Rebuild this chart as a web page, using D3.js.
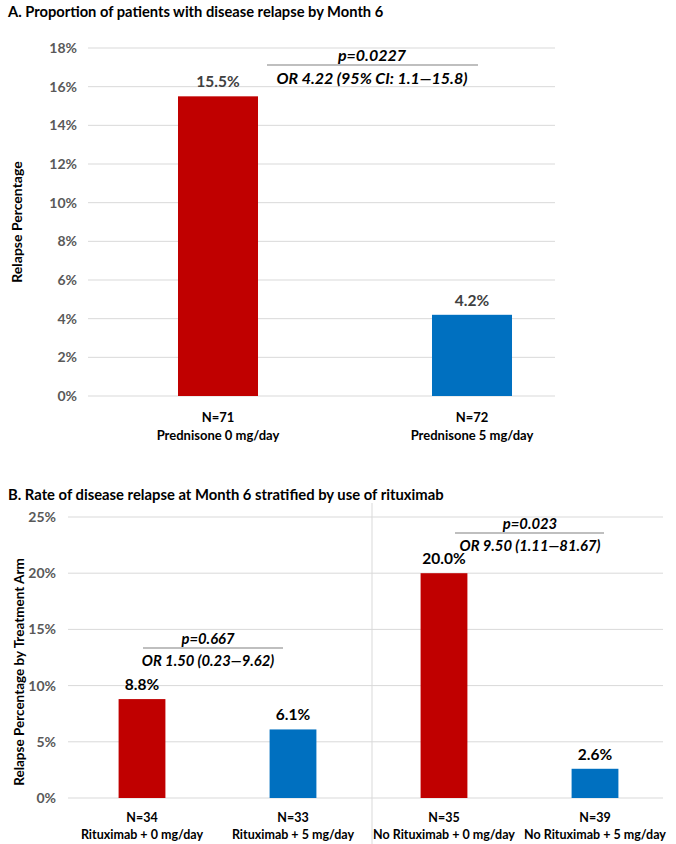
<!DOCTYPE html>
<html>
<head>
<meta charset="utf-8">
<script src="https://cdn.jsdelivr.net/npm/d3@7"></script>
<style>
  body { margin: 0; background: #fff; }
  svg text { font-family: Lato, "Open Sans", sans-serif; }
</style>
</head>
<body>
<svg id="chart" width="676" height="844"></svg>
<script>
// panel A data
var catsA = ["Prednisone 0 mg/day", "Prednisone 5 mg/day"];
var nA = ["N=71", "N=72"];
var valsA = [15.5, 4.2];
var ticksA = [0, 2, 4, 6, 8, 10, 12, 14, 16, 18];

// panel B data
var catsB = ["Rituximab + 0 mg/day", "Rituximab + 5 mg/day", "No Rituximab + 0 mg/day", "No Rituximab + 5 mg/day"];
var nB = ["N=34", "N=33", "N=35", "N=39"];
var valsB = [8.8, 6.1, 20.0, 2.6];
var ticksB = [0, 5, 10, 15, 20, 25];

var colors = ["#C00000", "#0070C0"];

var svg = d3.select("#chart");

function drawPanel(opt) {
  var g = svg.append("g");
  // inner padding p, outer p/2 -> band centres sit at step/2, 3*step/2 ...
  var x = d3.scaleBand().domain(opt.cats).range(opt.xRange)
    .paddingInner(opt.pad).paddingOuter(opt.pad / 2);
  var y = d3.scaleLinear().domain(opt.yDomain).range(opt.yRange);
  var cx = (d) => x(d) + x.bandwidth() / 2;

  g.append("text")
    .attr("x", 8).attr("y", opt.titleY)
    .attr("font-size", opt.titleSize).attr("font-weight", "bold").attr("fill", "#000")
    .text(opt.title);

  // gridlines
  g.append("g").selectAll("line")
    .data(opt.ticks)
    .join("line")
    .attr("x1", opt.gridX[0]).attr("x2", opt.gridX[1])
    .attr("y1", (d) => y(d)).attr("y2", (d) => y(d))
    .attr("stroke", "#d9d9d9").attr("stroke-width", 1);

  // y axis labels
  var yAxis = d3.axisLeft(y).tickValues(opt.ticks).tickSize(0).tickPadding(0)
    .tickFormat((d) => d + "%");
  var ax = g.append("g").attr("transform", `translate(${opt.tickX},0)`).call(yAxis);
  ax.select(".domain").remove();
  ax.selectAll("text")
    .attr("font-size", 14).attr("font-weight", "bold").attr("fill", "#595959")
    .attr("font-family", "Lato, sans-serif");

  g.append("text")
    .attr("transform", `translate(${opt.yTitleX},${opt.yTitleY}) rotate(-90)`)
    .attr("text-anchor", "middle")
    .attr("font-size", opt.yTitleSize).attr("font-weight", "bold").attr("fill", "#000")
    .text(opt.yTitle);

  if (opt.sep) {
    g.append("line")
      .attr("x1", opt.sep).attr("x2", opt.sep)
      .attr("y1", opt.sepY[0]).attr("y2", opt.sepY[1])
      .attr("stroke", "#d9d9d9");
  }

  g.append("g").selectAll("rect")
    .data(opt.vals)
    .join("rect")
    .attr("x", (d, i) => x(opt.cats[i]))
    .attr("width", x.bandwidth())
    .attr("y", (d) => y(d))
    .attr("height", (d) => y(0) - y(d))
    .attr("fill", (d, i) => colors[i % 2]);

  g.append("g").selectAll("text")
    .data(opt.vals)
    .join("text")
    .attr("x", (d, i) => cx(opt.cats[i]))
    .attr("y", (d) => y(d) - 9)
    .attr("text-anchor", "middle")
    .attr("font-size", opt.valSize).attr("font-weight", "bold").attr("fill", opt.valColor)
    .text((d) => d.toFixed(1) + "%");

  var cl = g.append("g").selectAll("text")
    .data(opt.cats)
    .join("text")
    .attr("text-anchor", "middle")
    .attr("font-size", opt.catSize).attr("font-weight", "bold").attr("fill", "#000");
  cl.append("tspan").attr("x", cx).attr("y", y(0) + opt.catDy[0])
    .text((d, i) => opt.ns[i]);
  cl.append("tspan").attr("x", cx).attr("y", y(0) + opt.catDy[1])
    .text((d) => d);

  // stats annotations
  opt.notes.forEach((n) => {
    var a = g.append("g");
    a.append("text").attr("x", n.cx).attr("y", n.y - 4)
      .attr("text-anchor", "middle").attr("font-size", opt.noteSize)
      .attr("font-weight", "bold").attr("font-style", "italic").attr("fill", "#000")
      .text(n.p);
    a.append("line").attr("x1", n.x1).attr("x2", n.x2).attr("y1", n.y).attr("y2", n.y)
      .attr("stroke", "#808080").attr("stroke-width", 1.2);
    a.append("text").attr("x", n.cx).attr("y", n.y + opt.noteSize + 3)
      .attr("text-anchor", "middle").attr("font-size", opt.noteSize)
      .attr("font-weight", "bold").attr("font-style", "italic").attr("fill", "#000")
      .text(n.or);
  });
}

drawPanel({
  title: "A. Proportion of patients with disease relapse by Month 6",
  titleY: 17, titleSize: 14.7,
  cats: catsA, ns: nA, vals: valsA, ticks: ticksA,
  xRange: [91, 599], pad: 0.685,
  yDomain: [0, 18], yRange: [396, 48],
  gridX: [88, 555], tickX: 77,
  yTitle: "Relapse Percentage", yTitleX: 22, yTitleY: 222, yTitleSize: 14,
  valSize: 15.5, valColor: "#404040",
  catSize: 13, catDy: [26, 44],
  noteSize: 16,
  notes: [{ p: "p=0.0227", or: "OR 4.22 (95% CI: 1.1\u201415.8)", cx: 372, x1: 267, x2: 478, y: 65 }]
});

drawPanel({
  title: "B. Rate of disease relapse at Month 6 stratified by use of rituximab",
  titleY: 500, titleSize: 14.8,
  cats: catsB, ns: nB, vals: valsB, ticks: ticksB,
  xRange: [66.5, 670.5], pad: 0.69,
  yDomain: [0, 25], yRange: [798, 517],
  gridX: [68, 663], tickX: 56,
  yTitle: "Relapse Percentage by Treatment Arm", yTitleX: 24, yTitleY: 672, yTitleSize: 13.5,
  valSize: 15.5, valColor: "#000",
  catSize: 12.5, catDy: [24, 41],
  noteSize: 14.8,
  notes: [
    { p: "p=0.667", or: "OR 1.50 (0.23\u20149.62)", cx: 208, x1: 143, x2: 283, y: 648 },
    { p: "p=0.023", or: "OR 9.50 (1.11\u201481.67)", cx: 530, x1: 455, x2: 604, y: 533 }
  ],
  sep: 372, sepY: [503, 844]
});
</script>
</body>
</html>
